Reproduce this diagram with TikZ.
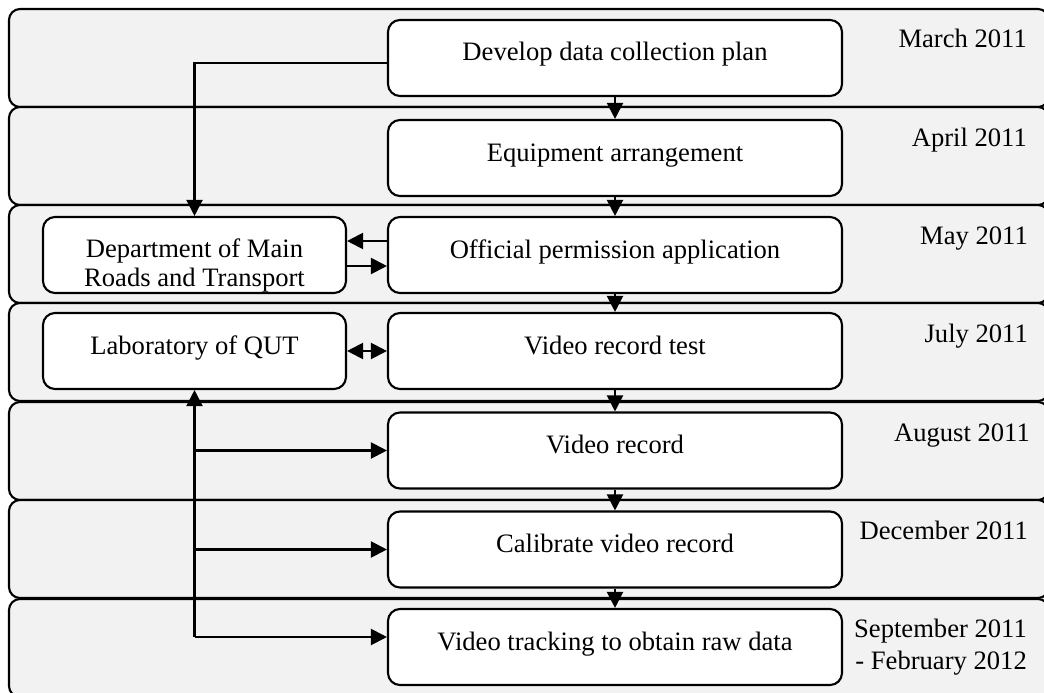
\documentclass[tikz,border=0pt]{standalone}
\usepackage{fontspec}
\setmainfont{Liberation Serif}
\usetikzlibrary{arrows.meta}
\begin{document}
\begin{tikzpicture}[x=1pt,y=-1pt,
  band/.style={draw=black,line width=2.1pt,fill=bandgray,rounded corners=11pt},
  box/.style={draw=black,line width=2.1pt,fill=white,rounded corners=12pt,inner sep=0pt,
    minimum height=76pt,text height=41pt,text depth=35pt,font=\fontsize{26.6}{29}\selectfont},
  mainbox/.style={box,minimum width=454pt},
  sidebox/.style={box,minimum width=303pt},
  datelbl/.style={anchor=base east,inner sep=0pt,font=\fontsize{26.6}{32}\selectfont},
  arr/.style={line width=2.1pt,-{Triangle[length=16pt,width=16pt]}},
  arrb/.style={line width=2.1pt,{Triangle[length=16pt,width=16pt]}-{Triangle[length=16pt,width=16pt]}}
]
\definecolor{bandgray}{HTML}{F2F2F2}
\useasboundingbox (0,0) rectangle (1044,693);
% bands
\foreach \t in {9,107,205,303,402,500,599}{
  \draw[band] (9,\t) rectangle (1049,\t+98);
}
% main boxes
\node[mainbox] (b1) at (615,58) {Develop data collection plan};
\node[mainbox] (b2) at (615,158) {Equipment arrangement};
\node[mainbox] (b3) at (615,255) {Official permission application};
\node[mainbox] (b4) at (615,351) {Video record test};
\node[mainbox] (b5) at (615,450.5) {Video record};
\node[mainbox] (b6) at (615,549.5) {Calibrate video record};
\node[mainbox] (b7) at (615,647) {Video tracking to obtain raw data};
% side boxes
\node[sidebox,text height=40pt,text depth=36pt] (dept) at (194.5,255)
  {\parbox[t]{300pt}{\centering\fontsize{26.6}{29}\selectfont Department of Main\\Roads and Transport}};
\node[sidebox] (lab) at (194.5,351) {Laboratory of QUT};
% dates
\node[datelbl] (d1) at (1027,48) {March 2011};
\node[datelbl] (d2) at (1027,146) {April 2011};
\node[datelbl] (d3) at (1028,244) {May 2011};
\node[datelbl] (d4) at (1028,342) {July 2011};
\node[datelbl] (d5) at (1030,441) {August 2011};
\node[datelbl] (d6) at (1028,539) {December 2011};
\node[datelbl] (d7) at (1027,637) {\begin{tabular}[t]{@{}r@{}}September 2011\\- February 2012\end{tabular}};
% main chain
\draw[arr] (b1) -- (b2);
\draw[arr] (b2) -- (b3);
\draw[arr] (b3) -- (b4);
\draw[arr] (b4) -- (b5);
\draw[arr] (b5) -- (b6);
\draw[arr] (b6) -- (b7);
% plan to department
\draw[arr] ([yshift=-5pt]b1.west) -| (dept.north);
% permission exchange
\draw[arr] ([yshift=14pt]b3.west) -- ([yshift=14pt]dept.east);
\draw[arr] ([yshift=-11pt]dept.east) -- ([yshift=-11pt]b3.west);
% lab <-> test
\draw[arrb] (lab) -- (b4);
% lab trunk and branches
\coordinate (j) at (194.5,637);
\draw[arr] (j) -- (lab.south);
\draw[arr] (lab.south |- b5.west) -- (b5.west);
\draw[arr] (lab.south |- b6.west) -- (b6.west);
\draw[arr] (j) -- (j -| b7.west);
\end{tikzpicture}
\end{document}
